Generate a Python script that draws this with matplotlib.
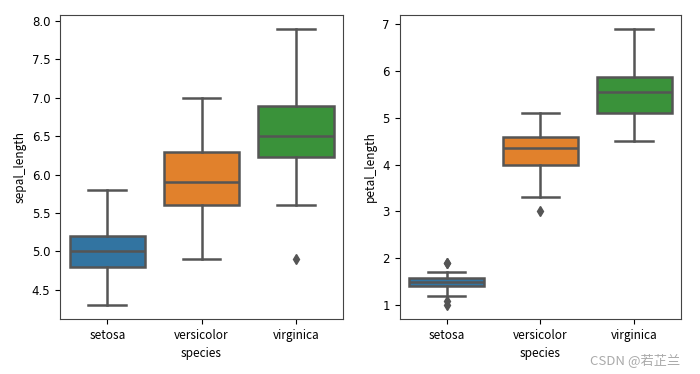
import matplotlib
matplotlib.use("Agg")
import matplotlib.pyplot as plt

species = ["setosa", "versicolor", "virginica"]
colors = ["#3274a1", "#e1812c", "#3a923a"]

# box statistics: low whisker, q1, median, q3, high whisker, outliers
sepal_whislo = [4.3, 4.9, 5.6]
sepal_q1 = [4.8, 5.6, 6.225]
sepal_med = [5.0, 5.9, 6.5]
sepal_q3 = [5.2, 6.3, 6.9]
sepal_whishi = [5.8, 7.0, 7.9]
sepal_fliers = [[], [], [4.9]]

petal_whislo = [1.2, 3.3, 4.5]
petal_q1 = [1.4, 4.0, 5.1]
petal_med = [1.5, 4.35, 5.55]
petal_q3 = [1.575, 4.6, 5.875]
petal_whishi = [1.7, 5.1, 6.9]
petal_fliers = [[1.0, 1.1, 1.9, 1.9], [3.0], []]

line_col = "#555555"
lab_font = ["Noto Sans CJK SC", "DejaVu Sans"]


def draw(ax, lo, q1, med, q3, hi, fl, ylabel):
    stats = []
    for i in range(len(species)):
        stats.append(dict(whislo=lo[i], q1=q1[i], med=med[i], q3=q3[i],
                          whishi=hi[i], fliers=fl[i], label=species[i]))
    lp = dict(color=line_col, linewidth=1.8)
    bp = ax.bxp(stats, positions=range(len(species)), widths=0.8,
                patch_artist=True, capwidths=0.4,
                boxprops=dict(edgecolor=line_col, linewidth=1.8),
                medianprops=lp, whiskerprops=lp, capprops=lp,
                flierprops=dict(marker="d", markersize=5, markerfacecolor=line_col,
                                markeredgecolor=line_col, linestyle="none"))
    for patch, c in zip(bp["boxes"], colors):
        patch.set_facecolor(c)
    ax.set_xlim(-0.5, len(species) - 0.5)
    ax.set_xticks(range(len(species)))
    ax.set_xticklabels(species, family=lab_font, fontsize=8.5)
    ax.set_xlabel("species", family=lab_font, fontsize=8.5, labelpad=3)
    ax.set_ylabel(ylabel, family=lab_font, fontsize=8.5, labelpad=4)
    ax.tick_params(axis="y", labelsize=8.5)
    ax.tick_params(axis="x", pad=4)
    for s in ax.spines.values():
        s.set_color("#444444")


fig = plt.figure(figsize=(7, 3.74), dpi=100)
ax1 = fig.add_axes([0.086, 0.147, 0.404, 0.813])
ax2 = fig.add_axes([0.571, 0.147, 0.402, 0.813])

draw(ax1, sepal_whislo, sepal_q1, sepal_med, sepal_q3, sepal_whishi, sepal_fliers, "sepal_length")
draw(ax2, petal_whislo, petal_q1, petal_med, petal_q3, petal_whishi, petal_fliers, "petal_length")
ax1.set_ylim(4.12, 8.08)
ax2.set_ylim(0.705, 7.195)

fig.text(0.972, 0.018, "CSDN @若芷兰", ha="right", va="bottom", fontsize=9.5,
         color="#aaaaaa", family=lab_font)

fig.savefig("out.png", dpi=100)
